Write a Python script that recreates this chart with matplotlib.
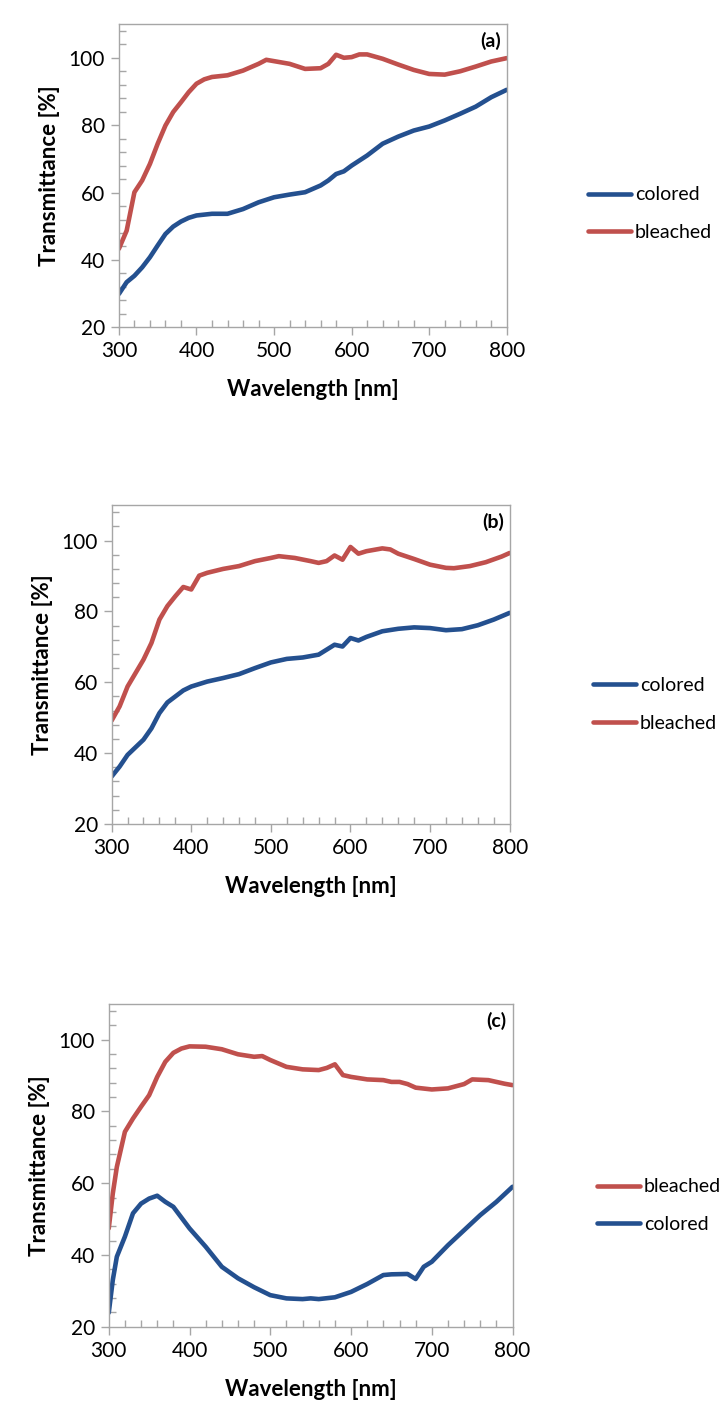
import numpy as np
import matplotlib.pyplot as plt
from matplotlib.ticker import MultipleLocator

plt.rcParams['font.family'] = ['Lato', 'DejaVu Sans']

# panel (a)
wl_a_bl = [300, 310, 320, 330, 340, 350, 360, 370, 380, 390, 400, 410, 420, 440, 460, 480, 490, 500,
           520, 540, 560, 570, 580, 590, 600, 610, 620, 640, 660, 680, 700, 720, 740, 760, 780, 800]
t_a_bl = [43.3, 48.7, 60.1, 63.6, 68.5, 74.5, 79.9, 83.9, 86.8, 89.8, 92.3, 93.6, 94.3, 94.8, 96.2, 98.2,
          99.4, 99.0, 98.2, 96.7, 96.9, 98.2, 100.9, 100.0, 100.2, 101.0, 101.0, 99.7, 98.0, 96.4, 95.2,
          95.0, 96.0, 97.4, 98.9, 99.9]
wl_a_co = [300, 310, 320, 330, 340, 350, 360, 370, 380, 390, 400, 420, 440, 460, 480, 500, 520, 540,
           560, 570, 580, 590, 600, 620, 640, 660, 680, 700, 720, 740, 760, 780, 800]
t_a_co = [29.9, 33.4, 35.3, 37.8, 40.8, 44.3, 47.7, 49.9, 51.4, 52.5, 53.2, 53.7, 53.7, 55.1, 57.1, 58.6,
          59.4, 60.1, 62.1, 63.6, 65.5, 66.3, 68.0, 71.0, 74.5, 76.6, 78.4, 79.6, 81.4, 83.4, 85.5, 88.3, 90.5]

# panel (b)
wl_b_bl = [300, 310, 320, 340, 350, 360, 370, 380, 390, 400, 410, 420, 440, 460, 480, 500, 510, 530,
           550, 560, 570, 580, 590, 600, 610, 620, 640, 650, 660, 680, 700, 720, 730, 750, 770, 790, 800]
t_b_bl = [49.2, 53.2, 58.8, 66.4, 71.1, 77.7, 81.5, 84.3, 86.9, 86.2, 90.1, 90.9, 92.0, 92.8, 94.2, 95.1,
          95.6, 95.1, 94.2, 93.7, 94.2, 95.8, 94.6, 98.2, 96.3, 97.0, 97.8, 97.5, 96.3, 94.8, 93.2, 92.3,
          92.2, 92.8, 93.9, 95.5, 96.5]
wl_b_co = [300, 310, 320, 340, 350, 360, 370, 380, 390, 400, 420, 440, 460, 480, 500, 520, 540, 560,
           570, 580, 590, 600, 610, 620, 640, 660, 680, 700, 720, 740, 760, 780, 800]
t_b_co = [33.4, 36.2, 39.5, 43.8, 47.0, 51.3, 54.3, 56.0, 57.7, 58.8, 60.2, 61.2, 62.3, 64.0, 65.6, 66.6,
          67.0, 67.8, 69.2, 70.6, 70.1, 72.5, 71.8, 72.8, 74.4, 75.1, 75.5, 75.3, 74.7, 75.0, 76.1, 77.7, 79.6]

# panel (c)
wl_c_bl = [300, 305, 310, 320, 330, 340, 350, 360, 370, 380, 390, 400, 420, 440, 460, 480, 490, 500,
           520, 540, 560, 570, 580, 590, 600, 620, 640, 650, 660, 670, 680, 700, 720, 740, 750, 770, 790, 800]
t_c_bl = [47.4, 57.1, 64.5, 74.3, 78.0, 81.3, 84.5, 89.6, 93.8, 96.3, 97.5, 98.1, 98.0, 97.3, 95.9, 95.2,
          95.4, 94.3, 92.4, 91.7, 91.5, 92.1, 93.1, 90.1, 89.6, 88.9, 88.7, 88.2, 88.2, 87.6, 86.6, 86.1,
          86.4, 87.6, 88.9, 88.7, 87.7, 87.3]
wl_c_co = [300, 305, 310, 320, 330, 340, 350, 360, 370, 380, 390, 400, 420, 440, 460, 480, 500, 520,
           540, 550, 560, 580, 600, 620, 640, 650, 670, 680, 690, 700, 720, 740, 760, 780, 800]
t_c_co = [23.9, 33.0, 39.5, 45.1, 51.6, 54.3, 55.7, 56.5, 54.8, 53.4, 50.4, 47.4, 42.3, 36.7, 33.5, 31.0,
          28.8, 27.9, 27.7, 27.9, 27.7, 28.2, 29.7, 31.9, 34.4, 34.6, 34.7, 33.3, 36.7, 38.1, 42.7, 46.9,
          51.1, 54.8, 59.0]

blue = '#24508f'
red = '#c0504d'
grey = '#a6a6a6'

fig = plt.figure(figsize=(7.25, 14.17), dpi=100)

panels = [
    ([0.164, 0.769, 0.535, 0.214], '(a)', (wl_a_co, t_a_co), (wl_a_bl, t_a_bl), False),
    ([0.154, 0.4185, 0.549, 0.225], '(b)', (wl_b_co, t_b_co), (wl_b_bl, t_b_bl), False),
    ([0.150, 0.0637, 0.557, 0.228], '(c)', (wl_c_co, t_c_co), (wl_c_bl, t_c_bl), True),
]

for rect, tag, co, bl, bleached_first in panels:
    ax = fig.add_axes(rect)
    l_co, = ax.plot(co[0], co[1], color=blue, lw=3.3, solid_capstyle='round', label='colored')
    l_bl, = ax.plot(bl[0], bl[1], color=red, lw=3.3, solid_capstyle='round', label='bleached')
    ax.set_xlim(300, 800)
    ax.set_ylim(20, 110)
    ax.xaxis.set_major_locator(MultipleLocator(100))
    ax.xaxis.set_minor_locator(MultipleLocator(20))
    ax.yaxis.set_minor_locator(MultipleLocator(4))
    ax.set_yticks([20, 40, 60, 80, 100])
    ax.tick_params(which='major', direction='out', length=6, width=1, color=grey,
                   labelsize=15, pad=4)
    ax.tick_params(which='minor', direction='in', length=5, width=1, color=grey)
    for s in ax.spines.values():
        s.set_color(grey)
        s.set_linewidth(1)
    ax.set_xlabel('Wavelength [nm]', fontsize=16, fontweight='bold', labelpad=13)
    ax.set_ylabel('Transmittance [%]', fontsize=16, fontweight='bold', labelpad=6)
    ax.text(0.985, 0.975, tag, transform=ax.transAxes, ha='right', va='top',
            fontsize=14, fontweight='bold')
    handles = [l_bl, l_co] if bleached_first else [l_co, l_bl]
    ax.legend(handles=handles, loc='center left', bbox_to_anchor=(1.21, 0.375),
              frameon=False, fontsize=14, handlelength=2.2, labelspacing=1.05,
              handletextpad=0.2, borderpad=0, borderaxespad=0)

fig.savefig('out.png', dpi=100)
